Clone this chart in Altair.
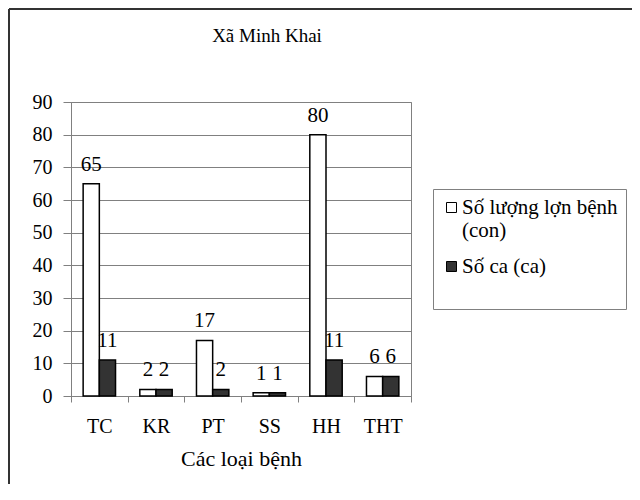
import altair as alt
import pandas as pd

categories = ["TC", "KR", "PT", "SS", "HH", "THT"]
series_names = ["Số lượng lợn bệnh (con)", "Số ca (ca)"]
so_luong = [65, 2, 17, 1, 80, 6]
so_ca = [11, 2, 2, 1, 11, 6]
y_ticks = [0, 10, 20, 30, 40, 50, 60, 70, 80, 90]

rows = []
for c, a, b in zip(categories, so_luong, so_ca):
    rows.append({"cat": c, "series": series_names[0], "value": a})
    rows.append({"cat": c, "series": series_names[1], "value": b})
df = pd.DataFrame(rows)

FONT = "Times New Roman"
GRAY = "#808080"


def x_enc():
    return alt.X("cat:N", sort=categories,
                 scale=alt.Scale(paddingInner=0, paddingOuter=0),
                 axis=alt.Axis(title="Các loại bệnh", labelAngle=0, tickBand="extent",
                               tickSize=6, labelPadding=14, titlePadding=12,
                               domainColor=GRAY, tickColor=GRAY, grid=False,
                               labelFontSize=20, titleFontSize=22,
                               labelFont=FONT, titleFont=FONT, titleFontWeight="normal",
                               labelColor="black", titleColor="black"))


def xo_enc():
    return alt.XOffset("series:N", sort=series_names,
                       scale=alt.Scale(paddingInner=0, paddingOuter=0.75))


def y_enc():
    return alt.Y("value:Q",
                 scale=alt.Scale(domain=[0, 90], nice=False),
                 axis=alt.Axis(title=None, values=y_ticks, tickCount=10, labelOverlap=False,
                               tickSize=8, labelPadding=11,
                               domainColor=GRAY, tickColor=GRAY, gridColor=GRAY,
                               labelFontSize=20, labelFont=FONT, labelColor="black"))


bars = alt.Chart(df).mark_bar(stroke="black", strokeWidth=1.5).encode(
    x=x_enc(),
    xOffset=xo_enc(),
    y=y_enc(),
    fill=alt.Fill("series:N", sort=series_names,
                  scale=alt.Scale(domain=series_names, range=["white", "#333333"]),
                  legend=alt.Legend(title=" ", titleOrient="bottom", titleFontSize=20,
                                    titlePadding=4,
                                    orient="none", legendX=362, legendY=87,
                                    symbolType="square", symbolSize=100,
                                    symbolStrokeColor="black", symbolStrokeWidth=1,
                                    labelFont=FONT, labelFontSize=21, labelColor="black",
                                    labelLimit=400, labelOffset=0,
                                    labelExpr="datum.label == 'Số lượng lợn bệnh (con)' ? ['Số lượng lợn bệnh', '(con)'] : datum.label",
                                    strokeColor=GRAY, fillColor="white", padding=8,
                                    rowPadding=14)),
)

labels = alt.Chart(df).mark_text(font=FONT, fontSize=21, color="black",
                                 baseline="alphabetic", dy=-13).encode(
    x=x_enc(),
    xOffset=xo_enc(),
    y=y_enc(),
    text=alt.Text("value:Q"),
)

frame_data = alt.Data(values=[{"k": 1}])
left_border = alt.Chart(frame_data).mark_rule(color="#333333", strokeWidth=2).encode(
    x=alt.value(-62), y=alt.value(-93), y2=alt.value(400))
top_border = alt.Chart(frame_data).mark_rule(color="#333333", strokeWidth=2).encode(
    x=alt.value(-62), x2=alt.value(570), y=alt.value(-93))

chart = alt.layer(bars, labels, left_border, top_border).properties(
    width=340, height=294,
    autosize=alt.AutoSizeParams(type="none"),
    padding={"left": 63, "top": 94, "right": 221, "bottom": 88},
    title=alt.TitleParams("Xã Minh Khai", font=FONT, fontSize=19, fontWeight="normal",
                          color="black", anchor="middle", dx=26, offset=0, dy=38),
).configure_view(stroke=GRAY, strokeWidth=1).configure_axis(gridWidth=1)

chart.save("out.html", embed_options={"renderer": "svg", "actions": False})
